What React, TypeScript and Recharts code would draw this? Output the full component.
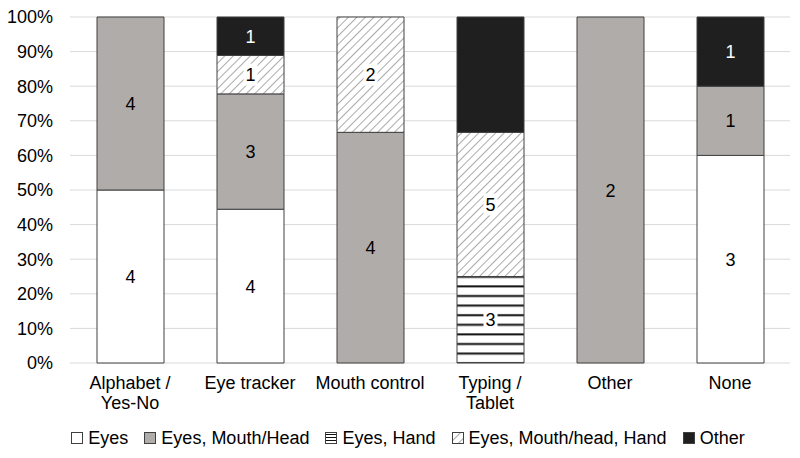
import React from "react";
import { BarChart, Bar, XAxis, YAxis, CartesianGrid, Legend, LabelList } from "recharts";

document.body.style.margin = "0";

const categories = ["Alphabet / Yes-No", "Eye tracker", "Mouth control", "Typing / Tablet", "Other", "None"];
const eyes = [4, 4, 0, 0, 0, 3];
const eyesMouthHead = [4, 3, 4, 0, 2, 1];
const eyesHand = [0, 0, 0, 3, 0, 0];
const eyesMouthHeadHand = [0, 1, 2, 5, 0, 0];
const other = [0, 1, 0, 4, 0, 1];
const yTicks = [0, 0.1, 0.2, 0.3, 0.4, 0.5, 0.6, 0.7, 0.8, 0.9, 1];

const data = categories.map((name, i) => ({
  name,
  eyes: eyes[i],
  emh: eyesMouthHead[i],
  eh: eyesHand[i],
  emhh: eyesMouthHeadHand[i],
  other: other[i],
}));

const FONT = "'Liberation Sans', Arial, sans-serif";
const FS = 18;

const series = [
  { key: "eyes", name: "Eyes", fill: "#ffffff", text: "#000", box: false },
  { key: "emh", name: "Eyes, Mouth/Head", fill: "#b0acaa", text: "#000", box: false },
  { key: "eh", name: "Eyes, Hand", fill: "url(#hlines)", text: "#000", box: true },
  { key: "emhh", name: "Eyes, Mouth/head, Hand", fill: "url(#hatch)", text: "#000", box: true },
  { key: "other", name: "Other", fill: "#1f1f1f", text: "#ffffff", box: false },
];

// the black "Other" segment of Typing / Tablet carries no visible count
const hiddenLabels = [["Typing / Tablet", "other"]];

function labelValue(key: string) {
  return (d: any) => {
    if (hiddenLabels.some(([c, k]) => c === d.name && k === key)) return null;
    return d[key] || null;
  };
}

function makeLabel(s: (typeof series)[number]) {
  return (props: any) => {
    const { x, y, width, height, value } = props;
    if (!value) return null;
    const cx = x + width / 2;
    const cy = y + height / 2;
    return (
      <g>
        {s.box && <rect x={cx - 7} y={cy - 11} width={14} height={22} fill="#fff" />}
        <text x={cx} y={cy} dy={6.5} textAnchor="middle" fill={s.text} fontSize={FS} fontFamily={FONT}>
          {value}
        </text>
      </g>
    );
  };
}

function XTick(props: any) {
  const { x, y, payload } = props;
  const v: string = payload.value;
  const lines = v.includes(" / ") ? [v.split(" / ")[0] + " /", v.split(" / ")[1]] : [v];
  return (
    <text x={x} y={y} textAnchor="middle" fill="#000" fontSize={FS} fontFamily={FONT}>
      {lines.map((l, i) => (
        <tspan key={i} x={x} dy={i === 0 ? 16 : 20}>
          {l}
        </tspan>
      ))}
    </text>
  );
}

function Icon({ fill }: { fill: string }) {
  return (
    <svg width={12} height={12} style={{ marginRight: 5 }}>
      <rect x={0.5} y={0.5} width={11} height={11} fill={fill} stroke="#404040" strokeWidth={1} />
    </svg>
  );
}

function LegendContent() {
  return (
    <div
      style={{
        display: "flex",
        justifyContent: "center",
        alignItems: "center",
        height: 20,
        fontFamily: FONT,
        fontSize: FS,
        color: "#000",
        paddingLeft: 26,
      }}
    >
      {series.map((s) => (
        <div key={s.key} style={{ display: "flex", alignItems: "center", margin: "0 8px" }}>
          <Icon fill={s.key === "eh" ? "url(#hlinesSmall)" : s.fill} />
          <span>{s.name}</span>
        </div>
      ))}
    </div>
  );
}

export default function App() {
  return (
    <div style={{ width: 800, height: 458, background: "#fff" }}>
      <svg width={0} height={0} style={{ position: "absolute" }}>
        <defs>
          <pattern id="hlines" patternUnits="userSpaceOnUse" width={10} height={9.6} y={0}>
            <rect x={0} y={0} width={10} height={9.6} fill="#fff" />
            <rect x={0} y={7} width={10} height={2} fill="#111" />
          </pattern>
          <pattern id="hlinesSmall" patternUnits="userSpaceOnUse" width={12} height={3}>
            <rect x={0} y={0} width={12} height={3} fill="#fff" />
            <rect x={0} y={2} width={12} height={1} fill="#111" />
          </pattern>
          <pattern id="hatch" patternUnits="userSpaceOnUse" width={6} height={6} patternTransform="rotate(45)">
            <rect x={0} y={0} width={6} height={6} fill="#fff" />
            <line x1={0} y1={0} x2={0} y2={6} stroke="#555" strokeWidth={1} />
          </pattern>
        </defs>
      </svg>
      <BarChart
        width={800}
        height={458}
        data={data}
        stackOffset="expand"
        margin={{ top: 17, right: 10, left: 0, bottom: 10 }}
        barSize={67}
      >
        <CartesianGrid vertical={false} stroke="#d9d9d9" />
        <XAxis
          dataKey="name"
          axisLine={false}
          tickLine={false}
          height={65}
          tick={<XTick />}
          interval={0}
          tickMargin={4}
        />
        <YAxis
          width={70}
          domain={[0, 1]}
          ticks={yTicks}
          axisLine={false}
          tickLine={false}
          tickSize={0}
          tickMargin={17}
          tickFormatter={(v: number) => `${Math.round(v * 100)}%`}
          tick={{ fill: "#000", fontSize: FS, fontFamily: FONT }}
        />
        <Legend verticalAlign="bottom" height={20} content={<LegendContent />} />
        {series.map((s) => (
          <Bar
            key={s.key}
            dataKey={s.key}
            name={s.name}
            stackId="a"
            fill={s.fill}
            stroke="#404040"
            strokeWidth={1}
            isAnimationActive={false}
          >
            <LabelList dataKey={labelValue(s.key)} content={makeLabel(s)} />
          </Bar>
        ))}
      </BarChart>
    </div>
  );
}
